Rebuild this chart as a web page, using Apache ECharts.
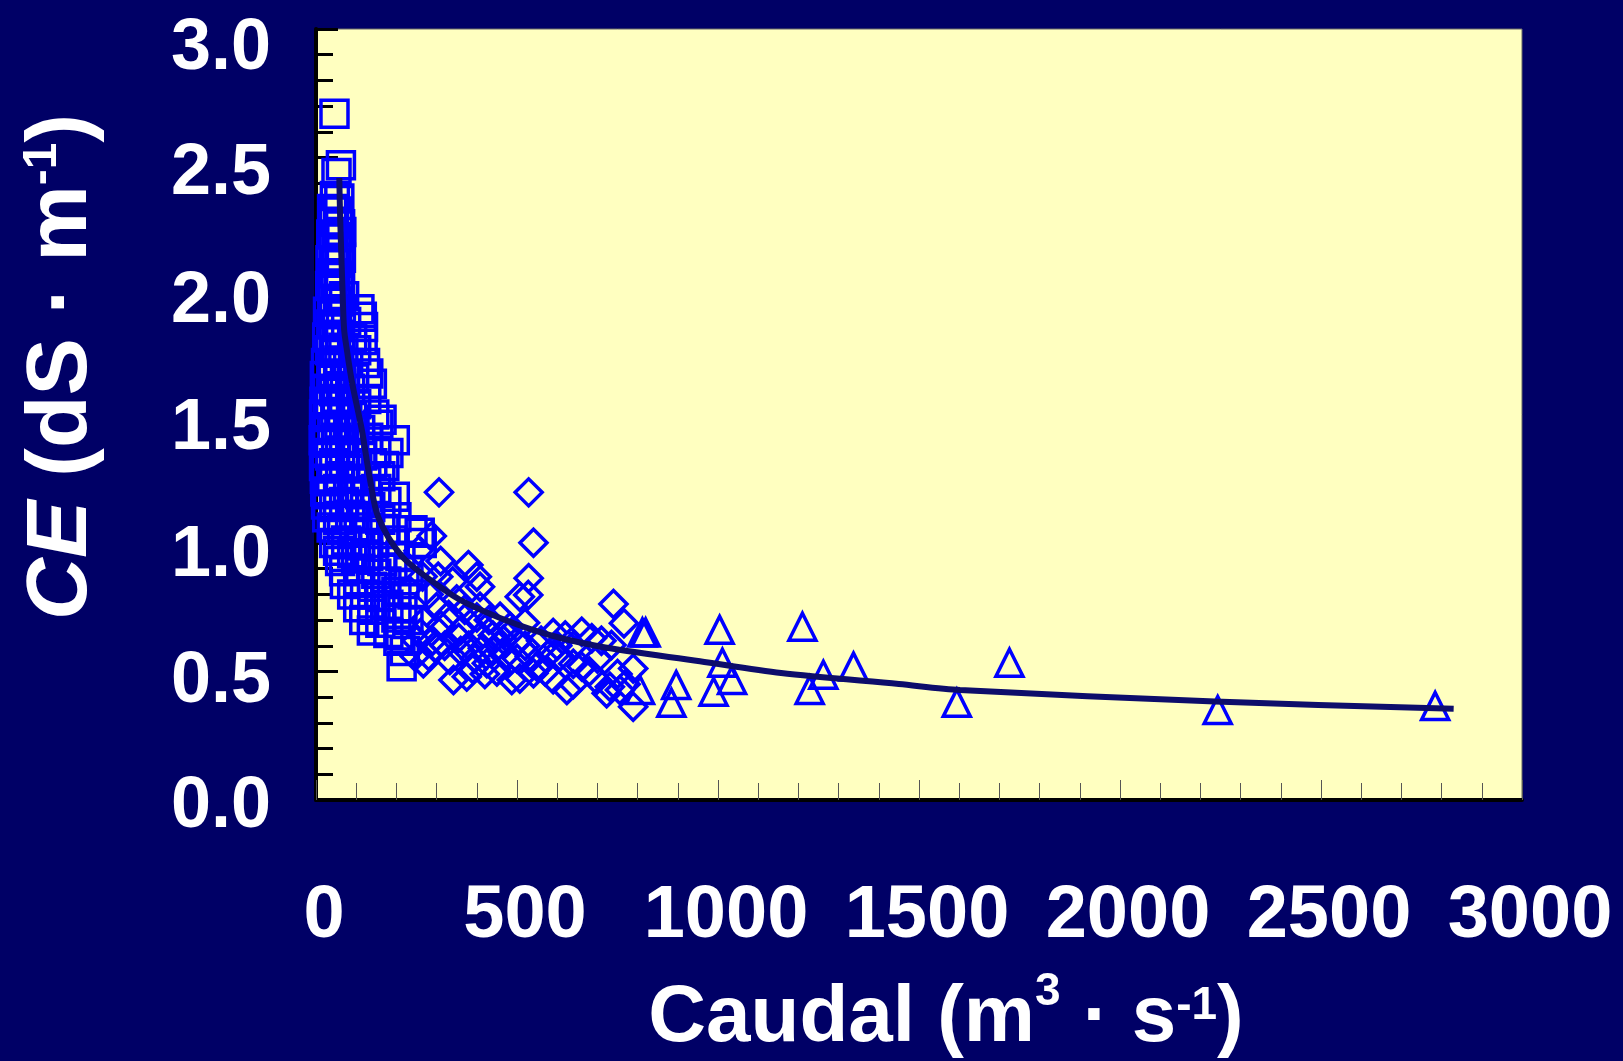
<!DOCTYPE html>
<html>
<head>
<meta charset="utf-8">
<script src="https://cdn.jsdelivr.net/npm/echarts@6/dist/echarts.min.js"></script>
<style>
html,body{margin:0;padding:0;background:#000066;}
#chart{width:1623px;height:1061px;}
</style>
</head>
<body>
<div id="chart"></div>
<script>
// Squares (low flow) [caudal, CE]
const squareData = [
[46,2.67],[62,2.47],[51,2.44],[47,2.35],[58,2.34],[40,2.30],[55,2.29],[45,2.25],[60,2.24],[38,2.20],[52,2.19],[63,2.21],
[44,2.15],[58,2.14],[36,2.10],[50,2.09],[62,2.11],[42,2.05],[56,2.04],[35,2.00],[48,1.99],[60,2.01],[40,1.95],[55,1.94],
[70,1.96],[30,1.90],[45,1.89],[62,1.91],[108,1.91],[114,1.88],[38,1.85],[52,1.84],[75,1.86],[117,1.84],[28,1.80],[44,1.79],
[60,1.81],[90,1.80],[116,1.79],[35,1.75],[50,1.74],[68,1.76],[100,1.75],[25,1.70],[42,1.69],[58,1.71],[80,1.70],[122,1.70],
[22,1.65],[38,1.64],[55,1.66],[72,1.65],[95,1.64],[130,1.66],[28,1.60],[45,1.59],[62,1.61],[85,1.60],[139,1.62],[21,1.55],
[35,1.54],[52,1.56],[70,1.55],[100,1.54],[125,1.56],[20,1.50],[30,1.49],[48,1.51],[65,1.50],[90,1.49],[145,1.50],[22,1.45],
[40,1.44],[58,1.46],[80,1.45],[110,1.44],[155,1.46],[163,1.48],[19,1.40],[28,1.39],[50,1.41],[70,1.40],[95,1.39],[130,1.41],
[196,1.40],[21,1.35],[35,1.34],[60,1.36],[85,1.35],[115,1.34],[150,1.36],[180,1.35],[20,1.30],[25,1.29],[45,1.31],[70,1.30],
[100,1.29],[140,1.31],[170,1.30],[22,1.25],[38,1.24],[60,1.26],[90,1.25],[125,1.24],[160,1.26],[23,1.20],[30,1.19],[55,1.21],
[80,1.20],[110,1.19],[150,1.21],[196,1.18],[25,1.15],[45,1.14],[70,1.16],[100,1.15],[135,1.14],[175,1.16],[28,1.10],[55,1.09],
[85,1.11],[120,1.10],[160,1.09],[200,1.10],[39,1.06],[65,1.05],[95,1.04],[130,1.06],[170,1.05],[240,1.05],[258,1.04],[45,1.00],
[75,1.01],[110,0.99],[145,1.00],[190,1.01],[263,1.00],[55,0.97],[90,0.96],[60,0.93],[100,0.94],[130,0.95],[165,0.93],[210,0.95],
[70,0.89],[110,0.90],[150,0.88],[190,0.90],[230,0.89],[72,0.84],[105,0.85],[140,0.83],[175,0.85],[220,0.84],[90,0.80],[122,0.80],
[160,0.79],[200,0.81],[240,0.80],[105,0.75],[140,0.74],[180,0.76],[215,0.75],[120,0.70],[160,0.69],[200,0.71],[230,0.70],
[139,0.66],[180,0.65],[210,0.64],[205,0.62],[221,0.58],[213,0.52]
];
// Diamonds (intermediate flow)
const diamondData = [
[306,1.197],[529,1.197],[541,1.001],[529,0.863],[507,0.791],[528,0.798],[740,0.763],[766,0.688],[288,1.027],[379,0.914],
[400,0.869],[408,0.83],[304,0.869],[590,0.65],[661,0.655],[686,0.629],[735,0.603],[789,0.512],[698,0.467],[624,0.428],
[723,0.415],[731,0.441],[789,0.363],[756,0.428],[661,0.519],[607,0.558],[499,0.616],[487,0.467],[507,0.473],[541,0.493],
[549,0.519],[532,0.558],[466,0.623],[458,0.713],[408,0.752],[342,0.467],[375,0.48],[267,0.532],[246,0.558],[333,0.545],
[425,0.532],[483,0.674],[290,0.62],[310,0.68],[330,0.72],[350,0.78],[360,0.66],[380,0.60],[395,0.55],[410,0.64],
[430,0.70],[440,0.58],[450,0.50],[470,0.56],[420,0.49],[390,0.51],[360,0.58],[320,0.60],[300,0.75],[280,0.80],
[270,0.70],[260,0.65],[340,0.85],[370,0.74],[440,0.64],[500,0.55],[520,0.60],[560,0.62],[580,0.57],[600,0.60],
[620,0.64],[640,0.60],[570,0.50],[590,0.47],[640,0.45],[680,0.50],[700,0.55],[710,0.62],[750,0.49],[770,0.45],
[640,0.53],[400,0.71],[355,0.63],[415,0.59],[455,0.60],[470,0.65],[520,0.69],[280,0.56],[300,0.59],[250,0.62],
[265,0.87],[310,0.93],[255,0.97]
];
// Triangles (high flow)
const triangleData = [
[812,0.652],[820,0.652],[806,0.428],[884,0.378],[896,0.447],[1004,0.662],[1011,0.534],[989,0.421],[1035,0.467],
[1210,0.674],[1228,0.428],[1262,0.487],[1337,0.519],[1594,0.378],[1725,0.534],[2243,0.35],[2784,0.366]
];
// Fitted curve
const curveData = [
[58,2.42],[60,2.27],[66,1.98],[70,1.83],[76,1.76],[89,1.63],[114,1.44],[134,1.25],[155,1.10],[213,0.95],[290,0.85],
[375,0.765],[541,0.661],[706,0.597],[955,0.54],[1157,0.494],[1450,0.451],[1602,0.428],[2236,0.383],[2830,0.355]
];
const xTicks = [0, 3000, 500];
const yTicks = [0, 3, 0.5];

const FONT = '"Liberation Sans", Arial, sans-serif';
const BLUE = '#0000ff';
const chart = echarts.init(document.getElementById('chart'));
const markerStyle = {color: 'transparent', borderColor: BLUE, borderWidth: 3.5, opacity: 1};

// per-label vertical nudges of y tick labels (line heights, top-aligned)
const yLabelLH = [15, 22, 27, 30, 33, 34, 40];
const yRich = {};
yLabelLH.forEach((lh, i) => {
  yRich['l' + i] = {color: '#fff', fontSize: 72, fontWeight: 'bold', fontFamily: FONT, lineHeight: lh};
});

chart.setOption({
  backgroundColor: '#000066',
  animation: false,
  grid: {left: 316, top: 29, width: 1206, height: 771, show: true, outerBoundsMode: 'none', containLabel: false,
         backgroundColor: '#ffffc0', borderColor: '#666', borderWidth: 1},
  xAxis: {
    type: 'value', min: xTicks[0], max: xTicks[1], interval: xTicks[2],
    axisLine: {show: true, onZero: false, lineStyle: {color: '#000', width: 4}},
    axisTick: {show: true, inside: true, length: 20, lineStyle: {color: '#555', width: 1}},
    minorTick: {show: true, splitNumber: 5, length: 17, lineStyle: {color: '#555', width: 1}},
    splitLine: {show: false},
    axisLabel: {color: '#fff', fontSize: 74, fontWeight: 'bold', fontFamily: FONT, margin: 80,
                padding: [0, 0, 0, 16], formatter: v => String(v)}
  },
  yAxis: [{
    type: 'value', min: yTicks[0], max: yTicks[1], interval: yTicks[2],
    axisLine: {show: true, onZero: false, lineStyle: {color: '#000', width: 4}},
    axisTick: {show: true, inside: true, length: 22, lineStyle: {color: '#000', width: 3}},
    minorTick: {show: true, splitNumber: 5, length: 17, lineStyle: {color: '#000', width: 3}},
    splitLine: {show: false},
    axisLabel: {color: '#fff', fontSize: 72, fontWeight: 'bold', fontFamily: FONT, margin: 45,
                verticalAlign: 'top', rich: yRich,
                formatter: v => '{l' + Math.round(v / yTicks[2]) + '|' + v.toFixed(1) + '}'}
  }, {
    type: 'value', position: 'right', min: 0, max: 3,
    axisLine: {show: true, lineStyle: {color: '#000', width: 3}},
    axisTick: {show: false}, axisLabel: {show: false}, splitLine: {show: false}
  }],
  series: [
    {type: 'scatter', data: squareData, symbol: 'rect', symbolSize: 27, itemStyle: markerStyle, clip: false, z: 2},
    {type: 'scatter', data: diamondData, symbol: 'diamond', symbolSize: 27, itemStyle: markerStyle, clip: false, z: 2},
    {type: 'scatter', data: triangleData, symbol: 'triangle', symbolSize: 27, itemStyle: markerStyle, clip: false, z: 2},
    {type: 'line', data: curveData, showSymbol: false, smooth: 0.3, z: 5,
     lineStyle: {color: '#0d0d6b', width: 6}}
  ],
  graphic: [
    {type: 'text', x: 62, y: 367, rotation: Math.PI / 2, z: 10,
     style: {text: '{i|CE} (dS · m{s|-1})', align: 'center', verticalAlign: 'middle', fill: '#fff',
             font: 'bold 86px ' + FONT,
             rich: {i: {fontStyle: 'italic', fontWeight: 'bold', fontSize: 86, fontFamily: FONT, fill: '#fff'},
                    s: {fontWeight: 'bold', fontSize: 48, fontFamily: FONT, verticalAlign: 'top', fill: '#fff'}}}},
    {type: 'text', x: 946, y: 1019, z: 10,
     style: {text: '{m|Caudal (m}{a|3}{m| · s}{b|-1}{m|)}', align: 'center', verticalAlign: 'middle', fill: '#fff',
             font: 'bold 80px ' + FONT, lineHeight: 100,
             rich: {m: {fontWeight: 'bold', fontSize: 80, fontFamily: FONT, lineHeight: 100, fill: '#fff'},
                    a: {fontWeight: 'bold', fontSize: 46, fontFamily: FONT, lineHeight: 46, verticalAlign: 'top', fill: '#fff'},
                    b: {fontWeight: 'bold', fontSize: 46, fontFamily: FONT, lineHeight: 46, padding: [14, 0, 0, 0],
                        verticalAlign: 'top', fill: '#fff'}}}}
  ]
});
</script>
</body>
</html>
